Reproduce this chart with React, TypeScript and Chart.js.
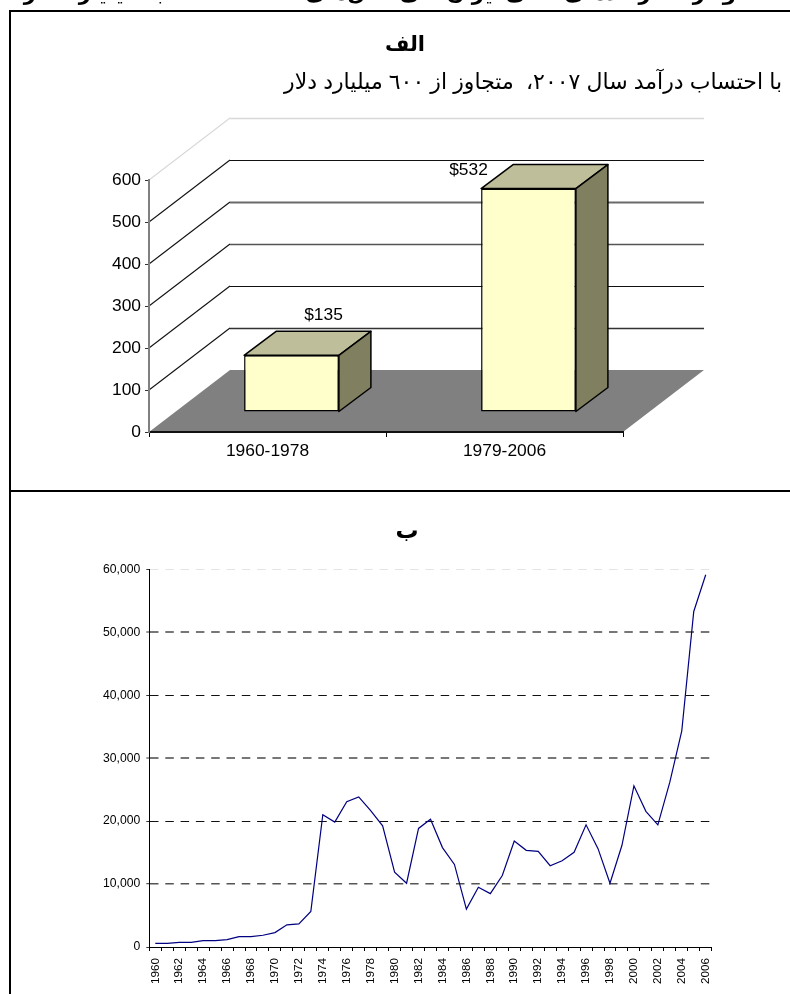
import React, { useEffect, useRef } from "react";
import { Chart, registerables } from "chart.js";

Chart.register(...registerables);

// Panel A: cumulative oil income by period (billion dollars)
const periods = ["1960-1978", "1979-2006"];
const periodIncome = [135, 532];
const periodLabels = ["$135", "$532"];
const periodLabelOffsets = [
  [32, -40],
  [-60, -18],
];
const incomeTicks = [0, 100, 200, 300, 400, 500, 600];

// Panel B: yearly oil income (million dollars)
const years = [
  1960, 1961, 1962, 1963, 1964, 1965, 1966, 1967, 1968, 1969, 1970, 1971, 1972, 1973, 1974, 1975,
  1976, 1977, 1978, 1979, 1980, 1981, 1982, 1983, 1984, 1985, 1986, 1987, 1988, 1989, 1990, 1991,
  1992, 1993, 1994, 1995, 1996, 1997, 1998, 1999, 2000, 2001, 2002, 2003, 2004, 2005, 2006,
];
const yearlyIncome = [
  590, 590, 750, 750, 1010, 1010, 1170, 1650, 1650, 1870, 2290, 3520, 3680, 5650, 21010, 19840,
  23090, 23840, 21650, 19250, 11890, 10130, 18830, 20300, 15790, 13120, 6030, 9490, 8480, 11360,
  16850, 15360, 15200, 12910, 13710, 15040, 19410, 15630, 10130, 16160, 25600, 21550, 19410, 26190,
  34340, 53300, 59140,
];

const pageHeading = "نمودار ۱- درآمدهای نفتی ایران طی سال‌های ۱۹۶۰ تا ۲۰۰۶ به میلیارد دلار";
const titleA = "الف";
const subtitleA = "با احتساب درآمد سال ٢٠٠٧،  متجاوز از ٦٠٠ میلیارد دلار";
const titleB = "ب";

const FONT = '"Liberation Sans", Arial, "DejaVu Sans", sans-serif';

// Receding direction of the 3D box, and how far the bars sit from the front edge
const DEPTH_X = 81;
const DEPTH_Y = -62;
const BAR_SHIFT_X = 24;
const BAR_SHIFT_Y = -20;
const BAR_DEPTH_X = 32;
const BAR_DEPTH_Y = -24;

type Line = { color: string; width: number };
const wallLines: Record<number, Line> = {
  100: { color: "#333333", width: 1.4 },
  200: { color: "#111111", width: 1 },
  300: { color: "#555555", width: 1.5 },
  400: { color: "#6a6a6a", width: 1.8 },
  500: { color: "#111111", width: 1 },
  600: { color: "#d8d8d8", width: 1.5 },
};
const dashedLines: Record<number, Line> = {
  0: { color: "#000000", width: 1 },
  10000: { color: "#555555", width: 1.4 },
  20000: { color: "#111111", width: 1 },
  30000: { color: "#777777", width: 2 },
  40000: { color: "#111111", width: 1 },
  50000: { color: "#777777", width: 2 },
  60000: { color: "#e4e4e4", width: 1 },
};

// The floor and the two walls of the 3D box sit behind the axes
const boxPlugin = {
  id: "box",
  beforeDraw(chart: any) {
    const { ctx, chartArea: a, scales } = chart;
    const y = scales.y;
    ctx.save();
    ctx.fillStyle = "#808080";
    ctx.beginPath();
    ctx.moveTo(a.left, a.bottom);
    ctx.lineTo(a.right, a.bottom);
    ctx.lineTo(a.right + DEPTH_X, a.bottom + DEPTH_Y);
    ctx.lineTo(a.left + DEPTH_X, a.bottom + DEPTH_Y);
    ctx.closePath();
    ctx.fill();
    incomeTicks.slice(1).forEach((v) => {
      const py = y.getPixelForValue(v);
      const style = wallLines[v];
      ctx.strokeStyle = v === 600 ? style.color : "#111111";
      ctx.lineWidth = 1.1;
      ctx.beginPath();
      ctx.moveTo(a.left, py);
      ctx.lineTo(a.left + DEPTH_X, py + DEPTH_Y);
      ctx.stroke();
      ctx.strokeStyle = style.color;
      ctx.lineWidth = style.width;
      const back = Math.round(py + DEPTH_Y) + 0.5;
      ctx.beginPath();
      ctx.moveTo(a.left + DEPTH_X, back);
      ctx.lineTo(a.right + DEPTH_X, back);
      ctx.stroke();
    });
    ctx.restore();
  },
  // The library draws the front faces; shifting the context seats them on the floor
  beforeDatasetDraw(chart: any) {
    chart.ctx.save();
    chart.ctx.translate(BAR_SHIFT_X, BAR_SHIFT_Y);
  },
  afterDatasetDraw(chart: any) {
    const { ctx } = chart;
    const bars = chart.getDatasetMeta(0).data;
    ctx.lineWidth = 1.5;
    ctx.strokeStyle = "#000000";
    ctx.lineJoin = "round";
    bars.forEach((bar: any, i: number) => {
      const { x, y, base, width } = bar.getProps(["x", "y", "base", "width"], true);
      const l = x - width / 2;
      const r = x + width / 2;
      ctx.fillStyle = "#bebe9a";
      ctx.beginPath();
      ctx.moveTo(l, y);
      ctx.lineTo(l + BAR_DEPTH_X, y + BAR_DEPTH_Y);
      ctx.lineTo(r + BAR_DEPTH_X, y + BAR_DEPTH_Y);
      ctx.lineTo(r, y);
      ctx.closePath();
      ctx.fill();
      ctx.stroke();
      ctx.fillStyle = "#808060";
      ctx.beginPath();
      ctx.moveTo(r, y);
      ctx.lineTo(r + BAR_DEPTH_X, y + BAR_DEPTH_Y);
      ctx.lineTo(r + BAR_DEPTH_X, base + BAR_DEPTH_Y);
      ctx.lineTo(r, base);
      ctx.closePath();
      ctx.fill();
      ctx.stroke();
      ctx.fillStyle = "#000000";
      ctx.font = `17.4px ${FONT}`;
      ctx.textAlign = "center";
      ctx.textBaseline = "middle";
      ctx.fillText(periodLabels[i], x + periodLabelOffsets[i][0], y + periodLabelOffsets[i][1]);
    });
    ctx.restore();
  },
};

type Heading = { text: string; font: string; x: number; y: number; align: CanvasTextAlign };

const headingPlugin = (items: Heading[]) => ({
  id: "headings",
  afterDraw(chart: any) {
    const { ctx } = chart;
    ctx.save();
    ctx.fillStyle = "#000000";
    ctx.textBaseline = "alphabetic";
    items.forEach((h) => {
      ctx.font = h.font;
      ctx.textAlign = h.align;
      ctx.fillText(h.text, h.x, h.y);
    });
    ctx.restore();
  },
});

function barConfig() {
  return {
    type: "bar",
    data: {
      labels: periods,
      datasets: [
        {
          data: periodIncome,
          backgroundColor: "#ffffcc",
          borderColor: "#000000",
          borderWidth: 1.5,
          borderSkipped: false,
          barPercentage: 0.4,
          categoryPercentage: 1,
          clip: false,
        },
      ],
    },
    options: {
      animation: false,
      responsive: false,
      layout: { padding: { top: 180, left: 0, right: 167, bottom: 0 } },
      plugins: { legend: { display: false }, tooltip: { enabled: false } },
      scales: {
        x: {
          grid: { drawOnChartArea: false, tickLength: 5, color: "#000000" },
          border: { color: "#111111", width: 2 },
          ticks: { color: "#000000", font: { family: FONT, size: 17.4 }, padding: 4 },
          afterFit: (s: any) => {
            s.height = 58;
          },
        },
        y: {
          min: 0,
          max: 600,
          afterBuildTicks: (s: any) => {
            s.ticks = incomeTicks.map((value) => ({ value }));
          },
          grid: { drawOnChartArea: false, tickLength: 4, color: "#333333" },
          border: { color: "#808080", width: 2 },
          ticks: { color: "#000000", font: { family: FONT, size: 17.4 }, padding: 4 },
          afterFit: (s: any) => {
            s.width = 149;
          },
        },
      },
    },
    plugins: [
      boxPlugin,
      headingPlugin([
        { text: pageHeading, font: `bold 21px ${FONT}`, x: 758, y: 0, align: "right" },
        { text: titleA, font: `bold 21px ${FONT}`, x: 405, y: 51, align: "center" },
        { text: subtitleA, font: `22px ${FONT}`, x: 782, y: 89, align: "right" },
      ]),
    ],
  };
}

function lineConfig() {
  return {
    type: "line",
    data: {
      labels: years,
      datasets: [
        {
          data: yearlyIncome,
          borderColor: "#000080",
          borderWidth: 1.2,
          pointRadius: 0,
          tension: 0,
        },
      ],
    },
    options: {
      animation: false,
      responsive: false,
      layout: { padding: { top: 77.3, left: 0, right: 78.3, bottom: 0 } },
      plugins: { legend: { display: false }, tooltip: { enabled: false } },
      scales: {
        x: {
          offset: true,
          grid: { offset: true, drawOnChartArea: false, tickLength: 4, color: "#000000" },
          border: { color: "#000000", width: 1 },
          ticks: {
            autoSkip: false,
            minRotation: 90,
            maxRotation: 90,
            padding: 7,
            color: "#000000",
            font: { family: FONT, size: 11.7 },
            callback: (_: any, i: number) => (i % 2 === 0 ? String(years[i]) : ""),
          },
          afterFit: (s: any) => {
            s.height = 47;
          },
        },
        y: {
          min: 0,
          max: 60000,
          ticks: {
            stepSize: 10000,
            color: "#000000",
            padding: 6,
            font: { family: FONT, size: 12.2 },
            callback: (v: number) => v.toLocaleString("en-US"),
          },
          grid: {
            color: (c: any) => dashedLines[c.tick.value].color,
            lineWidth: (c: any) => dashedLines[c.tick.value].width,
            tickColor: "#333333",
            tickLength: 3,
            tickWidth: 1,
          },
          border: { color: "#000000", width: 1, dash: [8.5, 6.8] },
          afterFit: (s: any) => {
            s.width = 149.3;
          },
        },
      },
    },
    plugins: [headingPlugin([{ text: titleB, font: `bold 23px ${FONT}`, x: 407, y: 46, align: "center" }])],
  };
}

function Panel({ config, top, height }: { config: () => any; top: number; height: number }) {
  const ref = useRef<HTMLCanvasElement>(null);
  useEffect(() => {
    const chart = new Chart(ref.current as HTMLCanvasElement, config());
    return () => chart.destroy();
  }, [config]);
  return (
    <canvas
      ref={ref}
      width={790}
      height={height}
      style={{ position: "absolute", left: 0, top, width: 790, height }}
    />
  );
}

const rule = (left: number, top: number, width: number, height: number): React.CSSProperties => ({
  position: "absolute",
  left,
  top,
  width,
  height,
  background: "#000000",
});

export default function App() {
  return (
    <div style={{ position: "absolute", left: 0, top: 0, width: 790, height: 994, overflow: "hidden", background: "#ffffff" }}>
      <Panel config={barConfig} top={0} height={490} />
      <Panel config={lineConfig} top={492} height={502} />
      <div style={rule(9, 10, 781, 2)} />
      <div style={rule(9, 490, 781, 2)} />
      <div style={rule(9, 10, 2, 984)} />
    </div>
  );
}
